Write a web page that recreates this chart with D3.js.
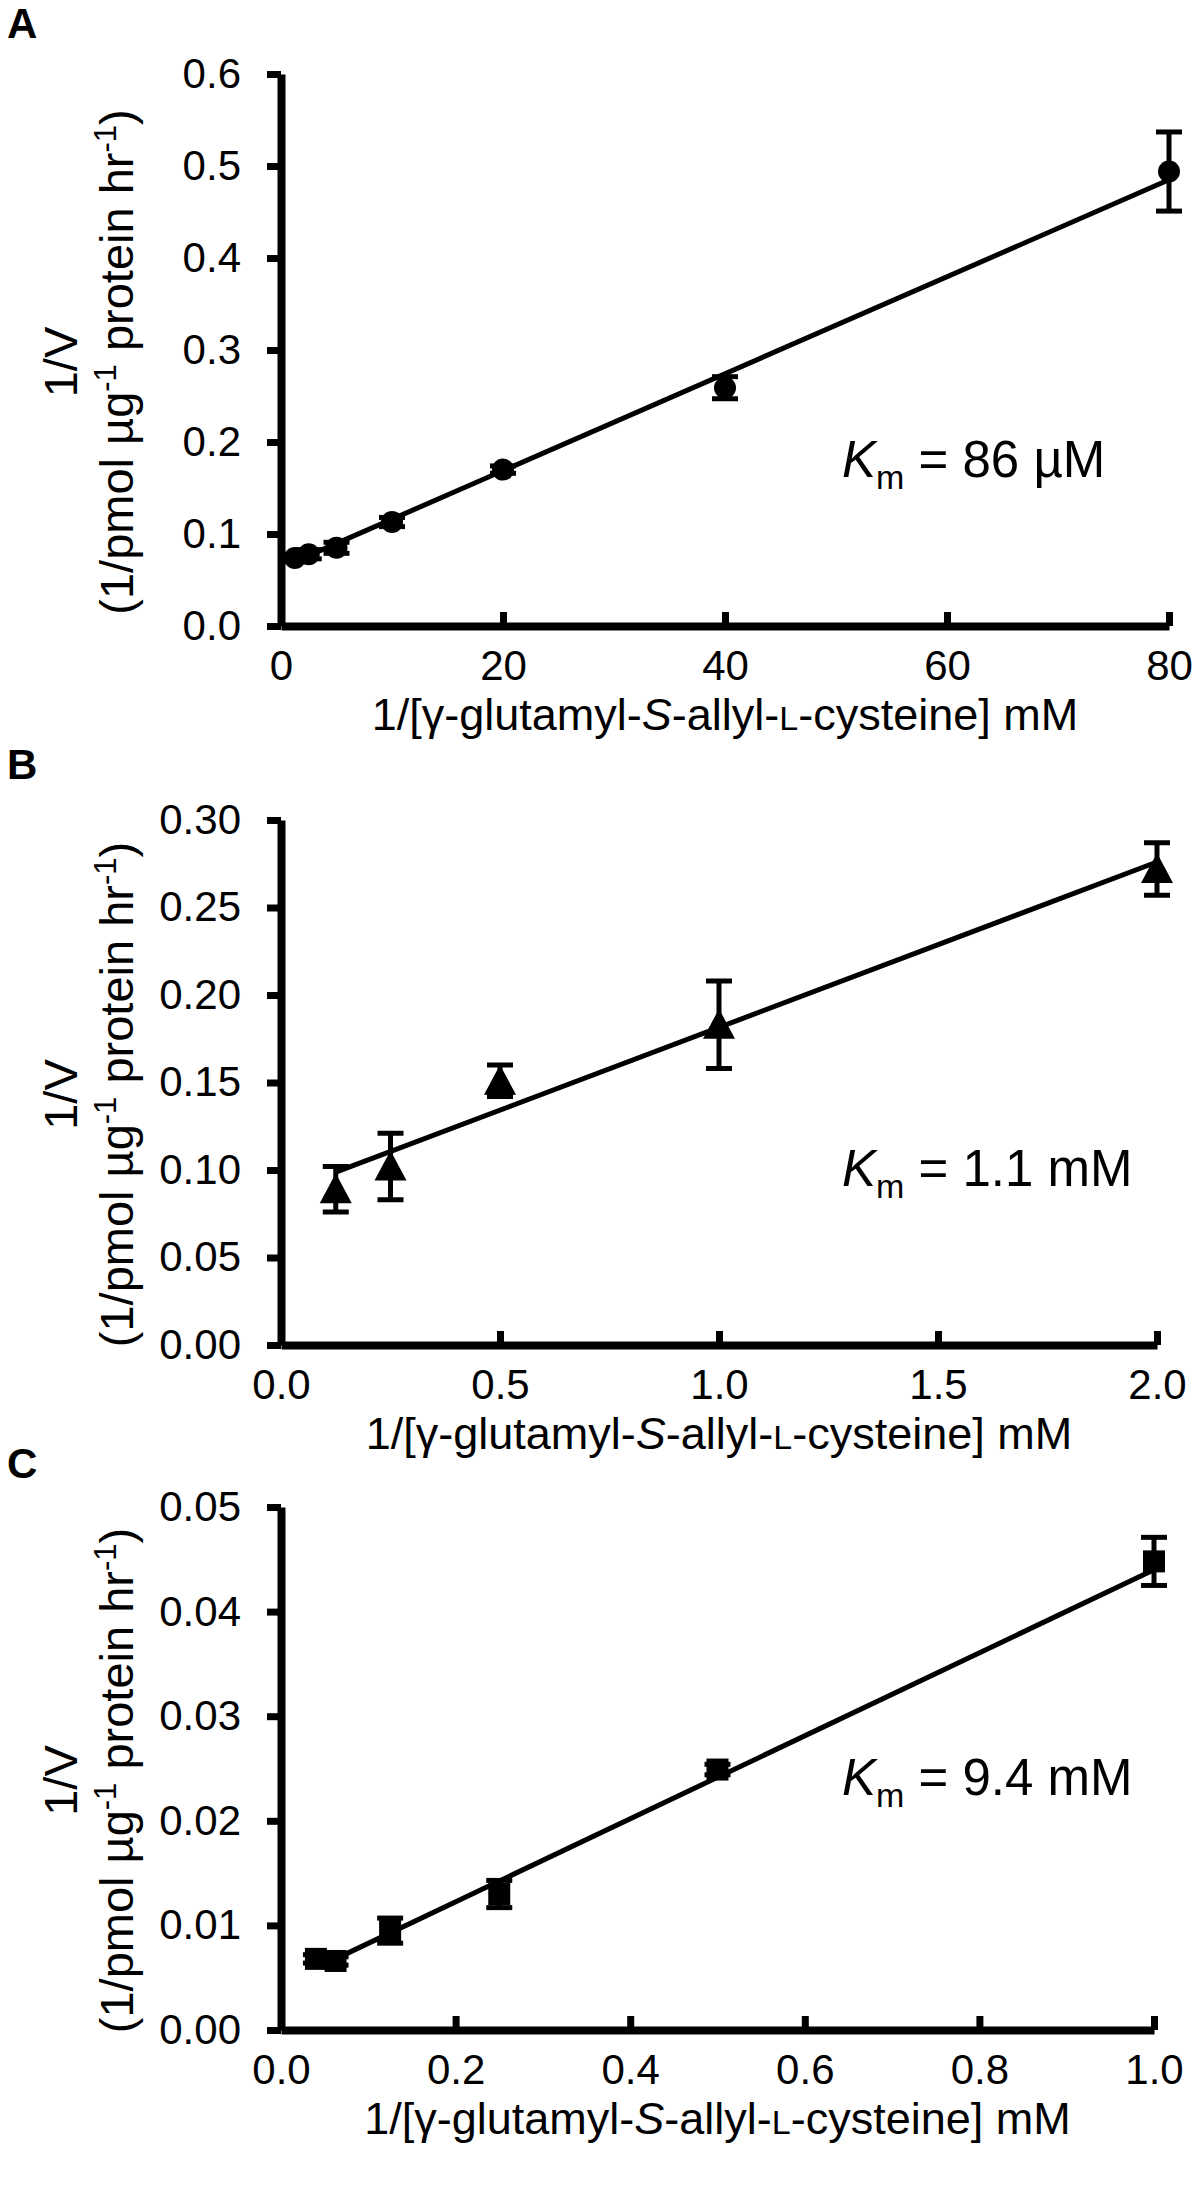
<!DOCTYPE html>
<html>
<head>
<meta charset="utf-8">
<script src="https://cdn.jsdelivr.net/npm/d3@7"></script>
<style>
body { margin: 0; background: #fff; }
text { font-family: "Liberation Sans", Arial, sans-serif; fill: #000; }
</style>
</head>
<body>
<script>
const width = 1200, height = 2197;

// panel A : circles
const xA = [1.25, 2.5, 5, 10, 20, 40, 80];
const yA = [0.074, 0.078, 0.085, 0.113, 0.170, 0.259, 0.494];
const errA = [0.004, 0.005, 0.006, 0.005, 0.004, 0.012, 0.043];
const fitA = [[1.25, 0.070], [80, 0.485]];
const xTicksA = [0, 20, 40, 60, 80];
const yTicksA = [0, 0.1, 0.2, 0.3, 0.4, 0.5, 0.6];

// panel B : triangles
const xB = [0.125, 0.25, 0.5, 1.0, 2.0];
const yB = [0.089, 0.102, 0.151, 0.183, 0.272];
const errB = [0.013, 0.019, 0.009, 0.025, 0.015];
const fitB = [[0.125, 0.0988], [2.0, 0.276]];
const xTicksB = [0, 0.5, 1.0, 1.5, 2.0];
const yTicksB = [0, 0.05, 0.10, 0.15, 0.20, 0.25, 0.30];

// panel C : squares
const xC = [0.04, 0.0625, 0.125, 0.25, 0.5, 1.0];
const yC = [0.0068, 0.0066, 0.0095, 0.0130, 0.0249, 0.0448];
const errC = [0.0004, 0.0004, 0.0012, 0.0013, 0.0005, 0.0023];
const fitC = [[0.0625, 0.0068], [1.0, 0.0440]];
const xTicksC = [0, 0.2, 0.4, 0.6, 0.8, 1.0];
const yTicksC = [0, 0.01, 0.02, 0.03, 0.04, 0.05];

const panelLetters = ["A", "B", "C"];
const kmValues = ["86 µM", "1.1 mM", "9.4 mM"];

const svg = d3.select("body").append("svg")
  .attr("width", width)
  .attr("height", height);

const left = 281;

function drawPanel(p) {
  const x = d3.scaleLinear().domain([p.xTicks[0], p.xTicks[p.xTicks.length - 1]]).range([left, p.right]);
  const y = d3.scaleLinear().domain([p.yTicks[0], p.yTicks[p.yTicks.length - 1]]).range([p.bottom, p.top]);
  const g = svg.append("g");

  const ax = g.append("g")
    .attr("transform", `translate(0,${p.bottom})`)
    .call(d3.axisBottom(x).tickValues(p.xTicks).tickFormat(d3.format(p.xFmt))
      .tickSizeInner(-14).tickSizeOuter(0).tickPadding(24));
  const ay = g.append("g")
    .attr("transform", `translate(${left},0)`)
    .call(d3.axisLeft(y).tickValues(p.yTicks).tickFormat(d3.format(p.yFmt))
      .tickSizeInner(14).tickSizeOuter(0).tickPadding(26));

  [ax, ay].forEach(a => {
    a.attr("font-size", 42).attr("font-family", '"Liberation Sans", Arial, sans-serif');
    a.select(".domain").attr("stroke", "#000").attr("stroke-width", 8);
    a.selectAll(".tick line").attr("stroke", "#000").attr("stroke-width", 7);
    a.selectAll(".tick text").attr("fill", "#000");
  });

  // fitted line
  g.append("line")
    .attr("x1", x(p.fit[0][0])).attr("y1", y(p.fit[0][1]))
    .attr("x2", x(p.fit[1][0])).attr("y2", y(p.fit[1][1]))
    .attr("stroke", "#000").attr("stroke-width", 5);

  const pts = p.xs.map((d, i) => ({x: d, y: p.ys[i], e: p.errs[i]}));

  // error bars
  const eb = g.append("g").attr("stroke", "#000").attr("stroke-width", 5);
  pts.forEach(d => {
    const cx = x(d.x), y1 = y(d.y - d.e), y2 = y(d.y + d.e);
    eb.append("line").attr("x1", cx).attr("x2", cx).attr("y1", y1).attr("y2", y2);
    eb.append("line").attr("x1", cx - 13).attr("x2", cx + 13).attr("y1", y1).attr("y2", y1);
    eb.append("line").attr("x1", cx - 13).attr("x2", cx + 13).attr("y1", y2).attr("y2", y2);
  });

  // markers
  const mk = g.append("g").attr("fill", "#000");
  pts.forEach(d => {
    const cx = x(d.x), cy = y(d.y);
    if (p.marker === "circle") {
      mk.append("circle").attr("cx", cx).attr("cy", cy).attr("r", 11);
    } else if (p.marker === "triangle") {
      mk.append("path").attr("d", `M${cx},${cy - 16}L${cx + 16},${cy + 14}L${cx - 16},${cy + 14}Z`);
    } else {
      mk.append("rect").attr("x", cx - 11).attr("y", cy - 11).attr("width", 22).attr("height", 22);
    }
  });

  // panel letter
  g.append("text")
    .attr("x", 7).attr("y", p.letterY)
    .attr("font-size", 42).attr("font-weight", "bold")
    .text(p.letter);

  // y title
  const cy = (p.top + p.bottom) / 2 + 12;
  g.append("text")
    .attr("transform", `translate(77,${cy}) rotate(-90)`)
    .attr("text-anchor", "middle").attr("font-size", 47)
    .text("1/V");
  const t2 = g.append("text")
    .attr("transform", `translate(133,${cy}) rotate(-90)`)
    .attr("text-anchor", "middle").attr("font-size", 47);
  t2.append("tspan").text("(1/pmol µg");
  t2.append("tspan").attr("font-size", 31).attr("dy", -17).text("-1");
  t2.append("tspan").attr("dy", 17).text(" protein hr");
  t2.append("tspan").attr("font-size", 31).attr("dy", -17).text("-1");
  t2.append("tspan").attr("dy", 17).text(")");

  // x title
  const xt = g.append("text")
    .attr("x", (left + p.right) / 2).attr("y", p.bottom + 104)
    .attr("text-anchor", "middle").attr("font-size", 45);
  xt.append("tspan").text("1/[γ-glutamyl-");
  xt.append("tspan").attr("font-style", "italic").text("S");
  xt.append("tspan").text("-allyl-");
  xt.append("tspan").attr("font-size", 34).text("L");
  xt.append("tspan").text("-cysteine] mM");

  // Km label
  const km = g.append("text")
    .attr("x", 842)
    .attr("y", y(p.kmY))
    .attr("font-size", 51);
  km.append("tspan").attr("font-style", "italic").text("K");
  km.append("tspan").attr("font-size", 34).attr("dy", 12).text("m");
  km.append("tspan").attr("dy", -12).text(" = " + p.km);
}

drawPanel({letter: panelLetters[0], letterY: 38, top: 74, bottom: 626, right: 1169,
  xs: xA, ys: yA, errs: errA, fit: fitA, xTicks: xTicksA, yTicks: yTicksA,
  xFmt: "d", yFmt: ".1f", marker: "circle", km: kmValues[0], kmY: 0.162});

drawPanel({letter: panelLetters[1], letterY: 779, top: 820, bottom: 1345, right: 1157,
  xs: xB, ys: yB, errs: errB, fit: fitB, xTicks: xTicksB, yTicks: yTicksB,
  xFmt: ".1f", yFmt: ".2f", marker: "triangle", km: kmValues[1], kmY: 0.091});

drawPanel({letter: panelLetters[2], letterY: 1478, top: 1507, bottom: 2030, right: 1154,
  xs: xC, ys: yC, errs: errC, fit: fitC, xTicks: xTicksC, yTicks: yTicksC,
  xFmt: ".1f", yFmt: ".2f", marker: "square", km: kmValues[2], kmY: 0.0225});
</script>
</body>
</html>
